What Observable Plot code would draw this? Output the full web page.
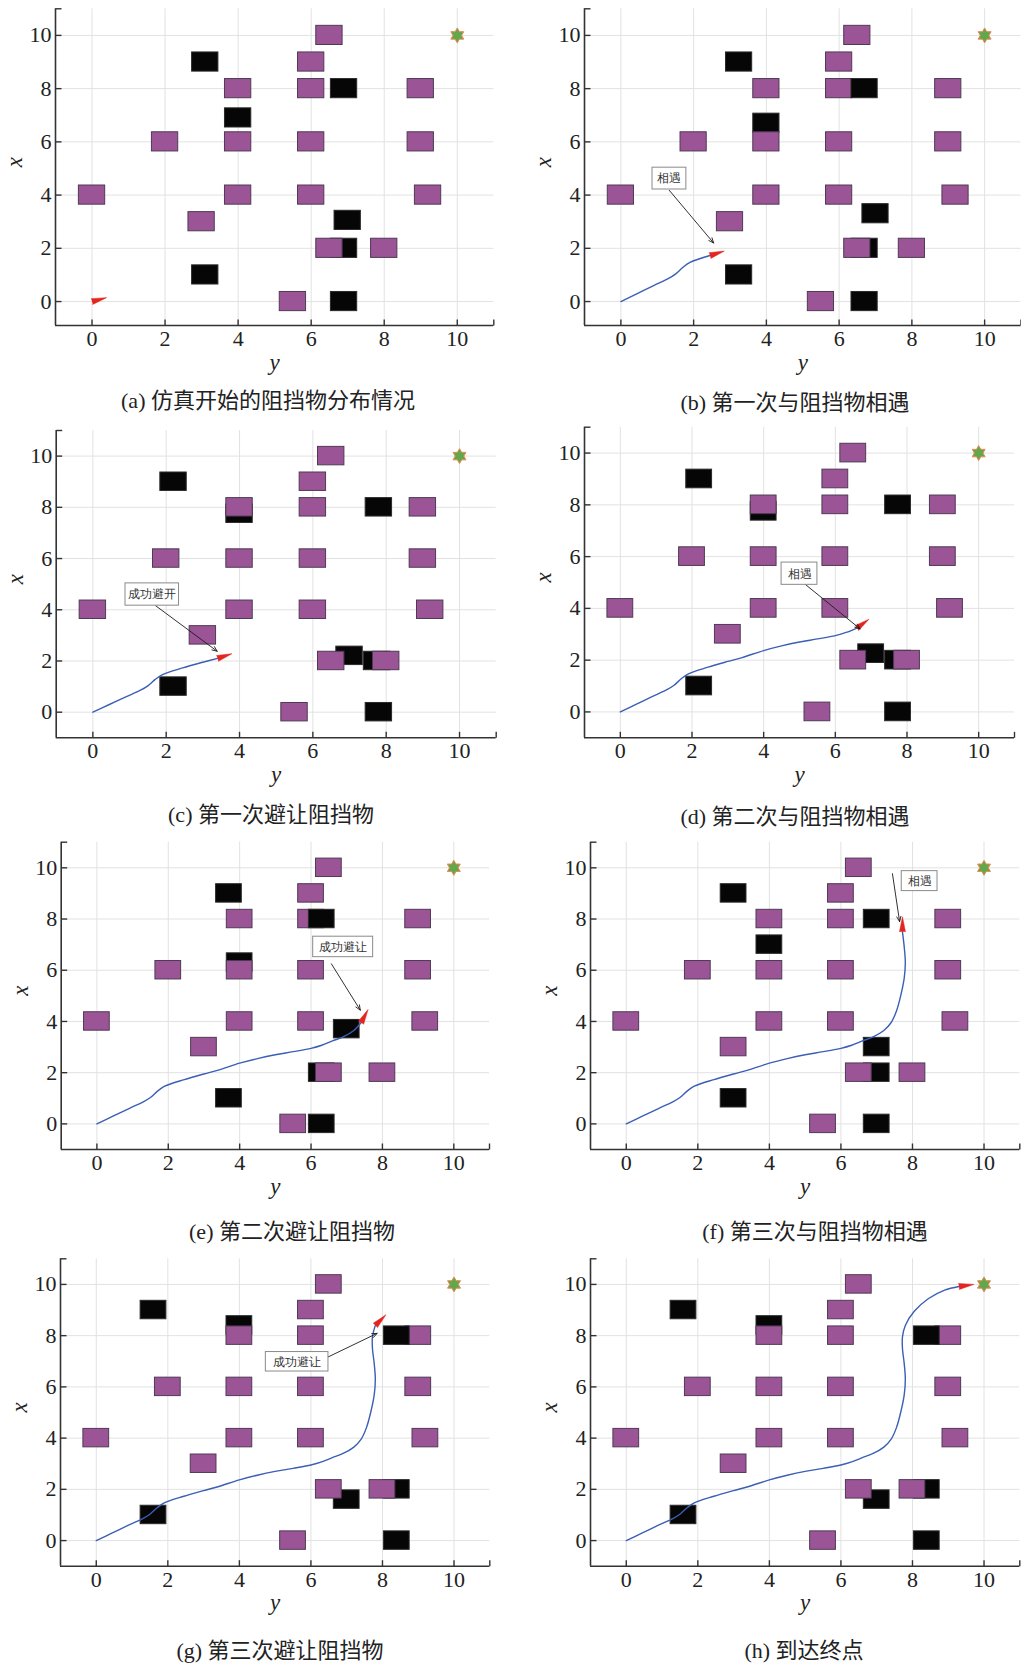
<!DOCTYPE html>
<html>
<head>
<meta charset="utf-8">
<script src="https://cdn.jsdelivr.net/npm/d3@7"></script>
<script src="https://cdn.jsdelivr.net/npm/@observablehq/plot@0.6"></script>
<style>
  body { margin: 0; background: #fff; }
  #root { position: relative; width: 1021px; height: 1666px; overflow: hidden; background: #fff; }
  .panel { position: absolute; }
  .cap { position: absolute; font-family: "Liberation Serif", "Noto Sans CJK SC", serif; font-size: 22px; color: #222; white-space: nowrap; transform: translate(-50%, -50%); }
  .panel svg text { font-family: "Liberation Serif", "DejaVu Serif", serif; }
  .panel svg g[aria-label="annotation"] text { font-family: "Noto Sans CJK SC", sans-serif; }
</style>
</head>
<body>
<div id="root"></div>
<script>
// ---------------- data ----------------
const captions = [
  "(a) 仿真开始的阻挡物分布情况",
  "(b) 第一次与阻挡物相遇",
  "(c) 第一次避让阻挡物",
  "(d) 第二次与阻挡物相遇",
  "(e) 第二次避让阻挡物",
  "(f) 第三次与阻挡物相遇",
  "(g) 第三次避让阻挡物",
  "(h) 到达终点"
];
const tickValues = [0, 2, 4, 6, 8, 10];
const goal = [10, 10];
const OBS = 0.72; // obstacle side (data units)

// static obstacles [y, x]
const purpleObstacles = [
  [6.5, 10], [6, 9], [4, 8], [6, 8], [9, 8], [2, 6], [4, 6], [6, 6], [9, 6],
  [0, 4], [4, 4], [6, 4], [9.2, 4], [3, 3], [6.5, 2], [8, 2], [5.5, 0]
];
// moving obstacles per panel [y, x, drawnOverStatic]
const blackA = [[3.1, 9, 0], [6.9, 8, 1], [4, 6.9, 0], [7, 3.05, 0], [6.9, 2, 0], [3.1, 1, 0], [6.9, 0, 0]];
const blackB = [[3.25, 9, 0], [6.7, 8, 1], [4, 6.7, 0], [7, 3.3, 0], [6.7, 2, 0], [3.25, 1, 0], [6.7, 0, 0]];
const blackC = [[2.2, 9, 0], [7.8, 8, 1], [4, 7.75, 0], [7, 2.2, 0], [7.75, 2, 0], [2.2, 1, 0], [7.8, 0, 0]];
const blackD = [[2.2, 9, 0], [7.75, 8, 1], [4, 7.75, 0], [7, 2.25, 0], [7.75, 2, 0], [2.2, 1, 0], [7.75, 0, 0]];
const blackE = [[3.7, 9, 0], [6.3, 8, 1], [4, 6.3, 0], [7, 3.7, 0], [6.3, 2, 0], [3.7, 1, 0], [6.3, 0, 0]];
const blackF = [[3, 9, 0], [7, 8, 1], [4, 7, 0], [7, 3, 0], [7, 2, 0], [3, 1, 0], [7, 0, 0]];
const blackG = [[1.6, 9, 0], [8.4, 8, 1], [4, 8.4, 0], [7, 1.6, 0], [8.4, 2, 0], [1.6, 1, 0], [8.4, 0, 0]];
const blackH = [[1.6, 9, 0], [8.4, 8, 1], [4, 8.4, 0], [7, 1.6, 0], [8.4, 2, 0], [1.6, 1, 0], [8.4, 0, 0]];

// robot trajectory
const pathY = [0, 0.45, 0.9, 1.3, 1.5, 1.7, 1.9, 2.45, 3.0, 3.4, 4.0, 4.5, 5.0, 5.5, 6.0, 6.3, 6.6, 6.9, 7.2, 7.4, 7.55, 7.67, 7.77, 7.8, 7.77, 7.72, 7.72, 7.8, 8.05, 8.45, 8.9, 9.3, 9.8];
const pathX = [0, 0.3, 0.6, 0.86, 1.03, 1.28, 1.47, 1.73, 1.95, 2.1, 2.37, 2.55, 2.7, 2.82, 2.95, 3.07, 3.24, 3.4, 3.65, 3.95, 4.4, 5.0, 5.7, 6.3, 6.9, 7.5, 7.95, 8.4, 8.95, 9.45, 9.78, 9.92, 10];
const pathCount = [1, 8, 10, 17, 20, 26, 28, 32];   // points reached in each panel
const headingDeg = [75, 73, 72, 54, 28, 0, 45, 82];  // robot heading (screen degrees)

// annotations
const annLabels = [null, "相遇", "成功避开", "相遇", "成功避让", "相遇", "成功避让", null];
const annBoxes = [null, [0.87, 1.80, 4.21, 5.03], [0.89, 2.35, 4.16, 5.03], [4.5, 5.5, 4.91, 5.77],
                  [6.06, 7.74, 6.51, 7.31], [7.7, 8.7, 9.09, 9.87], [4.74, 6.49, 6.6, 7.36], null];
const annArrows = [null, [1.33, 4.18, 2.55, 2.2], [1.71, 4.16, 3.39, 2.38], [5.15, 4.94, 6.69, 3.21],
                   [6.57, 6.25, 7.38, 4.44], [7.44, 9.77, 7.64, 7.9], [6.26, 7.02, 7.85, 8.09], null];

// ---------------- layout (page pixels) ----------------
const layout = [
  {cx: 0,   cy: 0,    cw: 510, left: 55,   right: 493.3,  top: 8.3,   bottom: 325,    ymin: -0.9, capX: 268, capY: 398},
  {cx: 510, cy: 0,    cw: 511, left: 584,  right: 1020.5, top: 8.3,   bottom: 325,    ymin: -0.9, capX: 795, capY: 400},
  {cx: 0,   cy: 415,  cw: 510, left: 55.7, right: 495.7,  top: 430,   bottom: 737.3,  ymin: -1,   capX: 271, capY: 812},
  {cx: 510, cy: 415,  cw: 511, left: 584,  right: 1014,   top: 426.7, bottom: 737.3,  ymin: -1,   capX: 795, capY: 814},
  {cx: 0,   cy: 830,  cw: 510, left: 60.7, right: 489,    top: 841.7, bottom: 1149,   ymin: -1,   capX: 292, capY: 1229},
  {cx: 510, cy: 830,  cw: 511, left: 590,  right: 1019.3, top: 841.7, bottom: 1149,   ymin: -1,   capX: 815, capY: 1229},
  {cx: 0,   cy: 1245, cw: 510, left: 60,   right: 489.3,  top: 1258.3,bottom: 1565.7, ymin: -1,   capX: 280, capY: 1648},
  {cx: 510, cy: 1245, cw: 511, left: 590,  right: 1019.3, top: 1258.3,bottom: 1565.7, ymin: -1,   capX: 804, capY: 1648}
];
const blackSets = [blackA, blackB, blackC, blackD, blackE, blackF, blackG, blackH];
const PANEL_H = 400;

// custom symbols
const upTick = {draw(ctx) { ctx.moveTo(0, 0); ctx.lineTo(0, -6); }};
const rightTick = {draw(ctx) { ctx.moveTo(0, 0); ctx.lineTo(6, 0); }};
const hexagram = {draw(ctx, size) {
  const R = Math.sqrt(size / Math.PI) * 1.15, r = R / Math.sqrt(3);
  for (let k = 0; k < 12; k++) {
    const a = -Math.PI / 2 + k * Math.PI / 6;
    const rr = k % 2 === 0 ? R : r;
    const px = rr * Math.cos(a), py = rr * Math.sin(a);
    if (k === 0) ctx.moveTo(px, py); else ctx.lineTo(px, py);
  }
  ctx.closePath();
}};

const serif = '"Liberation Serif", "DejaVu Serif", serif';
const half = OBS / 2;
const rectOpts = (fill, stroke) => ({
  x1: d => d[0] - half, x2: d => d[0] + half,
  y1: d => d[1] - half, y2: d => d[1] + half,
  fill, stroke, strokeWidth: 1
});

const root = document.getElementById("root");

layout.forEach((L, i) => {
  const ymin = L.ymin;
  const blacks = blackSets[i];
  const path = pathY.slice(0, pathCount[i]).map((y, k) => ({y, x: pathX[k]}));
  const last = path[path.length - 1];
  const marks = [
    Plot.gridX(tickValues, {stroke: "#e2e2e2", strokeOpacity: 1}),
    Plot.gridY(tickValues, {stroke: "#e2e2e2", strokeOpacity: 1}),
    Plot.ruleX([-1], {y1: ymin, y2: 11, stroke: "#333", strokeWidth: 1.6}),
    Plot.ruleY([ymin], {x1: -1, x2: 11, stroke: "#333", strokeWidth: 1.6}),
    Plot.dot(tickValues.concat([11]), {x: d => d, y: () => ymin, symbol: upTick, fill: "none", stroke: "#333", strokeWidth: 1.4, r: 3}),
    Plot.dot(tickValues.concat([11]), {x: () => -1, y: d => d, symbol: rightTick, fill: "none", stroke: "#333", strokeWidth: 1.4, r: 3}),
    Plot.axisX({ticks: tickValues, tickSize: 0, tickPadding: 5, fontSize: 22, label: null, anchor: "bottom"}),
    Plot.axisY({ticks: tickValues, tickSize: 0, tickPadding: 4, fontSize: 22, label: null, anchor: "left"}),
    Plot.text(["y"], {frameAnchor: "bottom", dy: 44, fontSize: 23, fontStyle: "italic", fill: "#222"}),
    Plot.text(["x"], {frameAnchor: "left", dx: -41, rotate: -90, fontSize: 23, fontStyle: "italic", fill: "#222"}),
    Plot.rect(blacks.filter(d => !d[2]), rectOpts("#060606", "#2a2a2a")),
    Plot.rect(purpleObstacles, rectOpts("#9b5596", "#4e3a55")),
    Plot.rect(blacks.filter(d => d[2]), rectOpts("#060606", "#2a2a2a"))
  ];
  if (path.length > 1) {
    marks.push(Plot.line(path, {x: "y", y: "x", stroke: "#3b5fb5", strokeWidth: 1.4, curve: "catmull-rom"}));
  }
  marks.push(Plot.vector([last], {x: "y", y: "x", rotate: headingDeg[i], length: 15, r: 3, shape: "spike", anchor: "start", fill: "#e3251f", stroke: "#e3251f", strokeWidth: 0.5}));
  marks.push(Plot.dot([goal], {x: d => d[0], y: d => d[1], r: 6.5, symbol: hexagram, fill: "#62a84a", stroke: "#e88a55", strokeWidth: 1}));
  if (annLabels[i]) {
    const b = annBoxes[i], a = annArrows[i];
    marks.push(Plot.arrow([a], {x1: d => d[0], y1: d => d[1], x2: d => d[2], y2: d => d[3], stroke: "#1a1a1a", strokeWidth: 0.9, headLength: 9, headAngle: 45}));
    marks.push(Plot.rect([b], {x1: d => d[0], x2: d => d[1], y1: d => d[2], y2: d => d[3], fill: "#fff", stroke: "#8a8a8a", strokeWidth: 1}));
    marks.push(Plot.text([annLabels[i]], {x: () => (b[0] + b[1]) / 2, y: () => (b[2] + b[3]) / 2, fontSize: 12, fill: "#333", ariaLabel: "annotation"}));
  }
  const plot = Plot.plot({
    width: L.cw,
    height: PANEL_H,
    marginLeft: L.left - L.cx,
    marginRight: L.cx + L.cw - L.right,
    marginTop: L.top - L.cy,
    marginBottom: L.cy + PANEL_H - L.bottom,
    x: {domain: [-1, 11], axis: null},
    y: {domain: [ymin, 11], axis: null},
    style: {background: "transparent", overflow: "visible", color: "#222", fontFamily: serif, fontSize: "22px"},
    marks
  });
  const wrap = document.createElement("div");
  wrap.className = "panel";
  wrap.style.left = L.cx + "px";
  wrap.style.top = L.cy + "px";
  wrap.appendChild(plot);
  root.appendChild(wrap);
  const cap = document.createElement("div");
  cap.className = "cap";
  cap.style.left = L.capX + "px";
  cap.style.top = L.capY + "px";
  cap.textContent = captions[i];
  root.appendChild(cap);
});
</script>
</body>
</html>
